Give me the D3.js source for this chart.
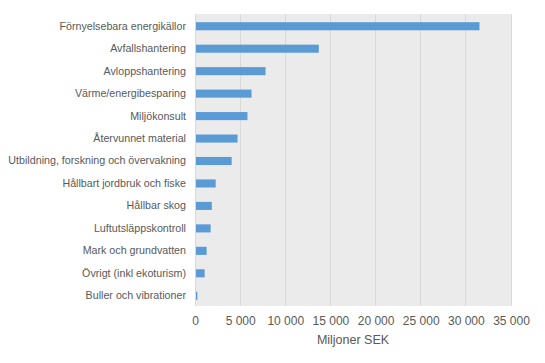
<!DOCTYPE html>
<html>
<head>
<meta charset="utf-8">
<script src="https://cdn.jsdelivr.net/npm/d3@7"></script>
<style>
body { margin: 0; background: #fff; }
text { font-family: "Liberation Sans", Arial, sans-serif; fill: #595959; }
</style>
</head>
<body>
<script>
var width = 545,
    height = 363;

var categories = ["Förnyelsebara energikällor", "Avfallshantering", "Avloppshantering",
    "Värme/energibesparing", "Miljökonsult", "Återvunnet material",
    "Utbildning, forskning och övervakning", "Hållbart jordbruk och fiske", "Hållbar skog",
    "Luftutsläppskontroll", "Mark och grundvatten", "Övrigt (inkl ekoturism)", "Buller och vibrationer"];
var values = [31400, 13600, 7700, 6150, 5700, 4600, 3950, 2180, 1750, 1620, 1180, 960, 150];
var ticks = [0, 5000, 10000, 15000, 20000, 25000, 30000, 35000];

var margin = {left: 195, right: 34, top: 14, bottom: 57};

var svg = d3.select("body").append("svg").attr("width", width).attr("height", height);

var x = d3.scaleLinear().domain([0, 35000]).range([margin.left, width - margin.right]);
var y = d3.scaleBand().domain(categories).range([margin.top + 1, height - margin.bottom + 1]).paddingInner(0.64).paddingOuter(0.32);

var fmt = function (d) { return d3.format(",")(d).replace(/,/g, " "); };

svg.append("rect") // plot background
    .attr("x", x(0)).attr("y", margin.top)
    .attr("width", x(35000) - x(0)).attr("height", height - margin.bottom - margin.top)
    .attr("fill", "#ebebeb");

svg.selectAll("line.grid").data(ticks).enter().append("line")
    .attr("class", "grid")
    .attr("x1", d => x(d)).attr("x2", d => x(d))
    .attr("y1", margin.top).attr("y2", height - margin.bottom)
    .attr("stroke", "#d9d9d9").attr("stroke-width", 1)
    .attr("shape-rendering", "crispEdges");

svg.selectAll("rect.bar").data(values).enter().append("rect")
    .attr("class", "bar")
    .attr("x", x(0) + 1)
    .attr("y", (d, i) => y(categories[i]))
    .attr("width", d => Math.max(1, x(d) - x(0)))
    .attr("height", y.bandwidth())
    .attr("fill", "#5b9bd5");

var xAxis = d3.axisBottom(x).tickValues(ticks).tickFormat(fmt).tickSize(0).tickPadding(10.5);
var gx = svg.append("g").attr("transform", "translate(0," + (height - margin.bottom) + ")").call(xAxis);
gx.select(".domain").remove();
gx.selectAll("text").attr("font-size", 12).style("font-family", null);

var yAxis = d3.axisLeft(y).tickSize(0).tickPadding(9);
var gy = svg.append("g").attr("transform", "translate(" + x(0) + ",0)").call(yAxis);
gy.select(".domain").remove();
gy.selectAll("text").attr("font-size", 10.7).style("font-family", null);

svg.append("text")
    .attr("x", (x(0) + x(35000)) / 2).attr("y", 344)
    .attr("text-anchor", "middle").attr("font-size", 12.5)
    .text("Miljoner SEK");
</script>
</body>
</html>
